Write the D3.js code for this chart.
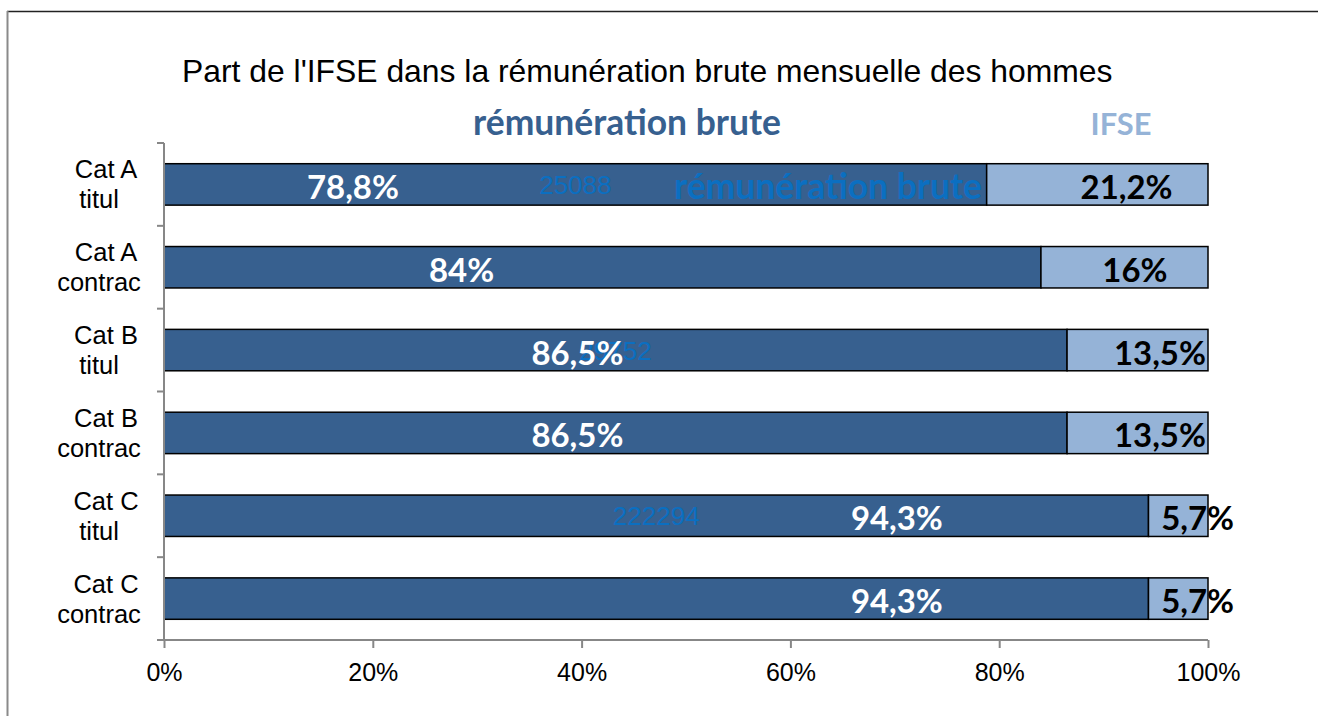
<!DOCTYPE html>
<html><head><meta charset="utf-8">
<script src="https://cdn.jsdelivr.net/npm/d3@7"></script>
<style>
html,body{margin:0;padding:0;background:#fff;}
svg{display:block;}
</style></head>
<body>
<svg id="chart" width="1318" height="716"></svg>
<script>
// ---- data ----
const categories = [["Cat A","titul"],["Cat A","contrac"],["Cat B","titul"],["Cat B","contrac"],["Cat C","titul"],["Cat C","contrac"]];
const remuneration = [78.8, 84, 86.5, 86.5, 94.3, 94.3];
const ifse = [21.2, 16, 13.5, 13.5, 5.7, 5.7];
const remLabels = ["78,8%","84%","86,5%","86,5%","94,3%","94,3%"];
const ifseLabels = ["21,2%","16%","13,5%","13,5%","5,7%","5,7%"];
// where the (moved) percentage labels sit, in axis units (%)
const remLabelAt = [18.1, 28.5, 39.6, 39.6, 70.2, 70.2];
const ifseLabelAt = [92.2, 93.0, 95.4, 95.4, 99.0, 99.0];
// leftover raw value labels, sitting at segment centre
const rawValueLabels = ["25088", null, "29752", null, "222294", null];
// leftover series-name label
const seriesNameLabels = [{row: 0, text: "rémunération brute", at: 63.6}];
const xTicks = [0, 20, 40, 60, 80, 100];
const seriesNames = ["rémunération brute", "IFSE"];
const title = "Part de l'IFSE dans la rémunération brute mensuelle des hommes";

// ---- layout ----
const svg = d3.select("#chart");
const W = 1318, H = 716;
const plot = {left: 164, right: 1208, top: 143, bottom: 640};
const darkBlue = "#37608F", lightBlue = "#95B3D7", strayBlue = "#0B6FC1", axisGray = "#878787";
const sans = "'Liberation Sans', Arial, sans-serif";
const bold = "Lato, 'Open Sans', sans-serif";

function fitWidth(sel, target) {
  const fs = parseFloat(sel.attr("font-size"));
  const w = sel.node().getComputedTextLength();
  if (w > 0) sel.attr("font-size", fs * target / w);
  return sel;
}

// chart border (top and left edges visible)
svg.append("line").attr("x1", 7).attr("x2", W).attr("y1", 11.5).attr("y2", 11.5)
  .attr("stroke", "#222").attr("stroke-width", 1.3);
svg.append("line").attr("x1", 7.5).attr("x2", 7.5).attr("y1", 11).attr("y2", H)
  .attr("stroke", "#8a8a8a").attr("stroke-width", 2);

const x = d3.scaleLinear().domain([0, 100]).range([plot.left, plot.right]);
const y = d3.scaleBand().domain(d3.range(categories.length)).range([plot.top, plot.bottom]).paddingInner(0.5).paddingOuter(0.25);
const yBand = d3.scaleBand().domain(d3.range(categories.length)).range([plot.top, plot.bottom]);

// title
fitWidth(svg.append("text").attr("x", 182).attr("y", 82).attr("font-family", sans).attr("font-size", 28)
  .attr("fill", "#000").text(title), 931);

// legend
fitWidth(svg.append("text").attr("x", 627).attr("y", 135).attr("text-anchor", "middle")
  .attr("font-family", bold).attr("font-weight", 700).attr("font-size", 30).attr("fill", darkBlue)
  .text(seriesNames[0]), 308);
fitWidth(svg.append("text").attr("x", 1121).attr("y", 135).attr("text-anchor", "middle")
  .attr("font-family", bold).attr("font-weight", 700).attr("font-size", 30).attr("fill", lightBlue)
  .text(seriesNames[1]), 61);

// bars
const rows = d3.range(categories.length);
svg.append("g").selectAll("rect").data(rows).join("rect")
  .attr("x", i => x(0)).attr("y", i => y(i))
  .attr("width", i => x(remuneration[i]) - x(0)).attr("height", y.bandwidth())
  .attr("fill", darkBlue).attr("stroke", "#000").attr("stroke-width", 1.5);
svg.append("g").selectAll("rect").data(rows).join("rect")
  .attr("x", i => x(remuneration[i])).attr("y", i => y(i))
  .attr("width", i => x(remuneration[i] + ifse[i]) - x(remuneration[i])).attr("height", y.bandwidth())
  .attr("fill", lightBlue).attr("stroke", "#000").attr("stroke-width", 1.5);

const cy = i => y(i) + y.bandwidth() / 2;

// stray raw value labels
svg.append("g").selectAll("text").data(rows.filter(i => rawValueLabels[i])).join("text")
  .attr("x", i => x(remuneration[i] / 2)).attr("y", i => cy(i) + 9.5)
  .attr("text-anchor", "middle").attr("font-family", sans).attr("font-size", 26)
  .attr("fill", strayBlue).text(i => rawValueLabels[i]);
// stray series-name label
const sn = svg.append("g").selectAll("text").data(seriesNameLabels).join("text")
  .attr("x", d => x(d.at)).attr("y", d => cy(d.row) + 15)
  .attr("text-anchor", "middle").attr("font-family", bold).attr("font-weight", 700).attr("font-size", 30)
  .attr("fill", strayBlue).text(d => d.text);
sn.each(function(){ fitWidth(d3.select(this), 308); });

// percentage labels
const probe = svg.append("text").attr("font-family", bold).attr("font-weight", 700).attr("font-size", 32).text(remLabels[0]);
fitWidth(probe, 92);
const labelSize = +probe.attr("font-size");
probe.remove();
svg.append("g").selectAll("text").data(rows).join("text")
  .attr("x", i => x(remLabelAt[i])).attr("y", i => cy(i) + 0.44 * labelSize)
  .attr("text-anchor", "middle").attr("font-family", bold).attr("font-weight", 700)
  .attr("font-size", labelSize).attr("fill", "#fff").text(i => remLabels[i]);
svg.append("g").selectAll("text").data(rows).join("text")
  .attr("x", i => x(ifseLabelAt[i])).attr("y", i => cy(i) + 0.44 * labelSize)
  .attr("text-anchor", "middle").attr("font-family", bold).attr("font-weight", 700)
  .attr("font-size", labelSize).attr("fill", "#000").text(i => ifseLabels[i]);

// y axis
const yAxisG = svg.append("g");
yAxisG.append("line").attr("x1", plot.left).attr("x2", plot.left).attr("y1", plot.top).attr("y2", plot.bottom)
  .attr("stroke", axisGray).attr("stroke-width", 2);
yAxisG.selectAll("line.t").data(d3.range(categories.length + 1)).join("line").attr("class", "t")
  .attr("x1", plot.left - 7).attr("x2", plot.left)
  .attr("y1", i => i < categories.length ? yBand(i) : plot.bottom)
  .attr("y2", i => i < categories.length ? yBand(i) : plot.bottom)
  .attr("stroke", axisGray).attr("stroke-width", 2);
const yl = yAxisG.selectAll("text").data(rows).join("text")
  .attr("font-family", sans).attr("font-size", 25.5).attr("fill", "#000").attr("text-anchor", "middle");
yl.append("tspan").attr("x", 106).attr("y", i => cy(i) - 6).text(i => categories[i][0]);
yl.append("tspan").attr("x", 99).attr("y", i => cy(i) + 24).text(i => categories[i][1]);

// x axis
const xAxisG = svg.append("g").attr("transform", `translate(0,${plot.bottom})`)
  .call(d3.axisBottom(x).tickValues(xTicks).tickSize(8).tickSizeOuter(0).tickPadding(16).tickFormat(d => d + "%"));
xAxisG.select(".domain").attr("stroke", axisGray).attr("stroke-width", 2)
  .attr("d", `M${plot.left - 7},0H${plot.right}`);
xAxisG.selectAll(".tick line").attr("stroke", axisGray).attr("stroke-width", 2);
xAxisG.selectAll(".tick text").attr("font-family", sans).attr("font-size", 25).attr("fill", "#000")
  .attr("dy", null).attr("y", 41);
</script>
</body></html>
